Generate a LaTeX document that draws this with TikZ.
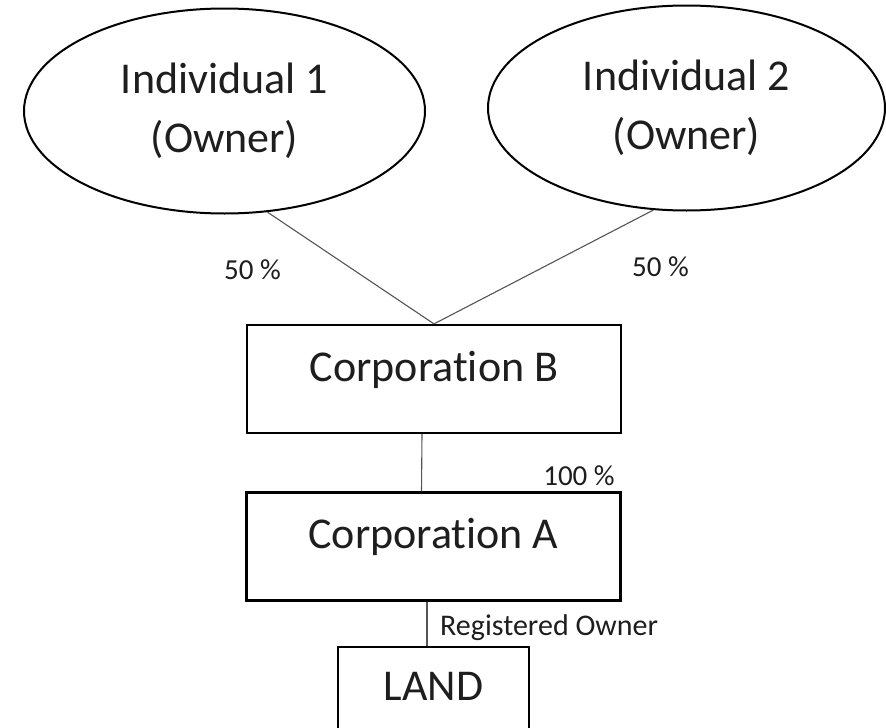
\documentclass[tikz,border=0pt]{standalone}
\usepackage{fontspec}
\setmainfont[Ligatures={NoCommon}]{Carlito}
\usetikzlibrary{shapes.geometric}
\definecolor{txt}{HTML}{1E1E1E}
\definecolor{conn}{HTML}{555555}
\tikzset{
  owner/.style={ellipse, draw=black, line width=2pt, minimum width=401pt, minimum height=205pt,
    inner sep=0pt, align=center, text=txt, font=\fontsize{44}{59}\selectfont},
  corpbox/.style={rectangle, draw=black, line width=2.2pt, minimum width=374pt, minimum height=108pt,
    inner sep=0pt, text=txt, font=\fontsize{44}{52}\selectfont, text height=30pt, text depth=26pt},
  landbox/.style={rectangle, draw=black, line width=2.2pt, minimum width=191pt, minimum height=90pt,
    inner sep=0pt, text=txt, font=\fontsize{44}{52}\selectfont, text height=30pt, text depth=14pt},
  pct/.style={anchor=base, inner sep=0pt, text=txt, font=\fontsize{29}{34}\selectfont},
  link/.style={draw=conn, line width=1.1pt}
}
\begin{document}
\begin{tikzpicture}[x=1pt,y=-1pt]
\useasboundingbox (0,0) rectangle (886,728);
\clip (0,0) rectangle (886,728);
\fill[white] (0,0) rectangle (886,728);
\node[owner] (ind1) at (224.5,111) {Individual 1\\(Owner)};
\node[owner, minimum width=397pt] (ind2) at (686.5,108) {Individual 2\\(Owner)};
\node[corpbox] (corpB) at (434,379) {Corporation B};
\node[corpbox] (corpA) at (433.5,546.5) {Corporation A};
\node[landbox] (land) at (433.5,692) {LAND};
\draw[link] (ind1.-67) -- (corpB.north);
\draw[link] (ind2.-108) -- (corpB.north);
\draw[link] ([xshift=-12pt]corpB.south) -- ([xshift=-12pt]corpA.north);
\draw[link] ([xshift=-6.5pt]corpA.south) -- ([xshift=-6.5pt]land.north);
\node[pct] (p1) at (252.5,279) {50 \%};
\node[pct] (p2) at (660.5,276) {50 \%};
\node[pct] (p3) at (579,485) {100 \%};
\node[pct, anchor=base west, font=\fontsize{30}{34}\selectfont] (reg) at (440,635) {Registered Owner};
\end{tikzpicture}
\end{document}
